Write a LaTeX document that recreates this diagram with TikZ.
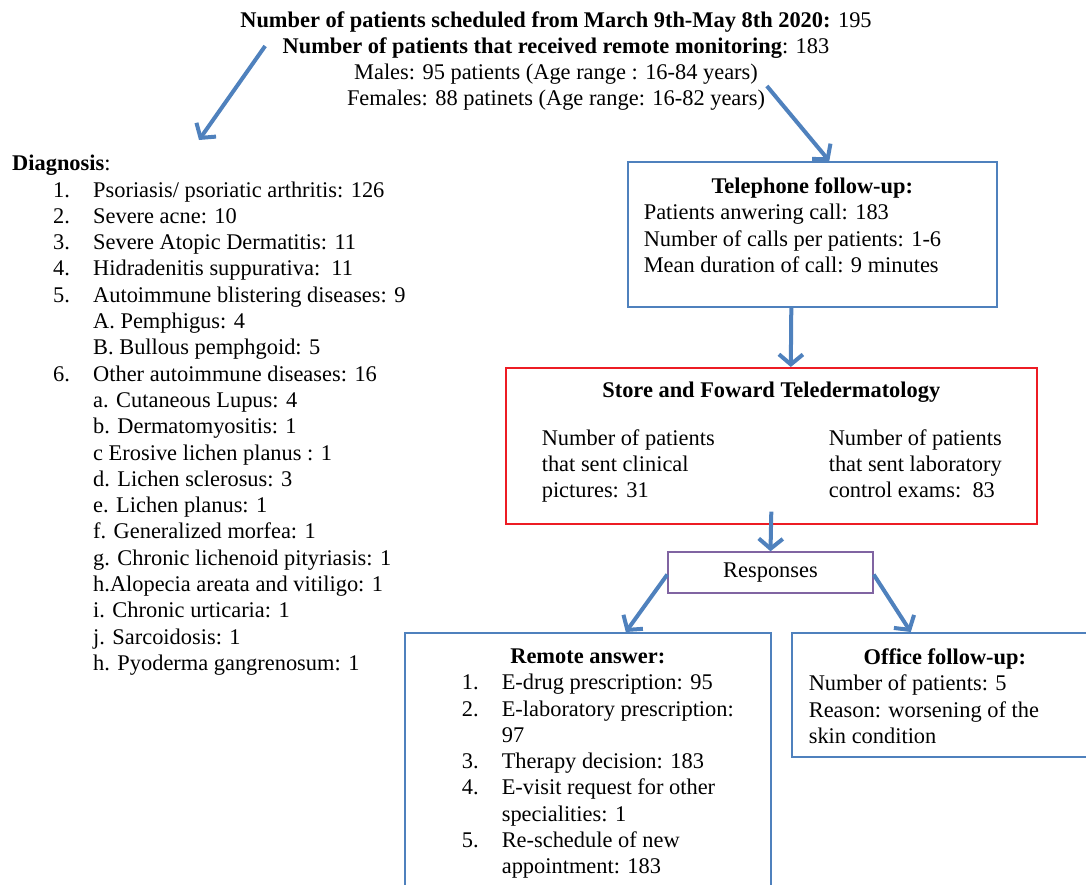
\documentclass[tikz,border=0pt]{standalone}
\usepackage{fontspec}
\setmainfont{Liberation Serif}
\usepackage{xcolor}
\usetikzlibrary{arrows.meta, positioning, calc}

\definecolor{flowblue}{RGB}{79,129,189}
\definecolor{flowred}{RGB}{237,28,36}
\definecolor{flowpurple}{RGB}{128,100,162}

\newcommand{\numline}[2]{\hspace*{41pt}\makebox[40pt][l]{#1}#2}
\newcommand{\subline}[1]{\hspace*{81pt}#1}
\newcommand{\ritem}[2]{\hspace*{57pt}\makebox[40pt][l]{#1}#2}

\begin{document}
\begin{tikzpicture}[
    x=1pt, y=-1pt,
    every node/.style={font=\fontsize{22.4}{26.3}\selectfont, inner sep=0pt},
    box/.style={rectangle, draw=flowblue, line width=1.6pt, anchor=north west},
    arrow/.style={draw=flowblue, line width=4pt, -{Straight Barb[length=10pt, width=24pt]}}
]
\useasboundingbox (0,0) rectangle (1086,884);
\clip (0,0) rectangle (1086,884);

% Title
\node[align=center] (title) at (556,61) {
    \textbf{Number of patients scheduled from March 9th-May 8th 2020:} 195\\
    \textbf{Number of patients that received remote monitoring}: 183\\
    Males: 95 patients (Age range : 16-84 years)\\
    Females: 88 patinets (Age range: 16-82 years)
};

% Diagnosis list
\node[align=left, anchor=north west] (diag) at (12,155) {
    \textbf{Diagnosis}:\\
    \numline{1.}{Psoriasis/ psoriatic arthritis: 126}\\
    \numline{2.}{Severe acne: 10}\\
    \numline{3.}{Severe Atopic Dermatitis: 11}\\
    \numline{4.}{Hidradenitis suppurativa:\ \ 11}\\
    \numline{5.}{Autoimmune blistering diseases: 9}\\
    \subline{A. Pemphigus: 4}\\
    \subline{B. Bullous pemphgoid: 5}\\
    \numline{6.}{Other autoimmune diseases: 16}\\
    \subline{a. Cutaneous Lupus: 4}\\
    \subline{b. Dermatomyositis: 1}\\
    \subline{c Erosive lichen planus : 1}\\
    \subline{d. Lichen sclerosus: 3}\\
    \subline{e. Lichen planus: 1}\\
    \subline{f. Generalized morfea: 1}\\
    \subline{g. Chronic lichenoid pityriasis: 1}\\
    \subline{h.Alopecia areata and vitiligo: 1}\\
    \subline{i. Chronic urticaria: 1}\\
    \subline{j. Sarcoidosis: 1}\\
    \subline{h. Pyoderma gangrenosum: 1}
};

% Telephone follow-up
\node[box] (tel) at (627,161) {\parbox[c][145pt][t]{369pt}{%
    \vspace*{16pt}\centering\textbf{Telephone follow-up:}\par
    \raggedright\leftskip=16pt
    Patients anwering call: 183\\
    Number of calls per patients: 1-6\\
    Mean duration of call: 9 minutes}};

% Store and forward
\node[box, draw=flowred] (store) at (505,367) {\parbox[c][156pt][t]{531pt}{%
    \vspace*{14pt}\centering\textbf{Store and Foward Teledermatology}\par
    \vspace{21.7pt}\raggedright
    \hspace*{36pt}\parbox[t]{287pt}{Number of patients\\that sent clinical\\pictures: 31}%
    \parbox[t]{200pt}{Number of patients\\that sent laboratory\\control exams:\ \ 83}}};

% Responses
\node[draw=flowpurple, line width=1.4pt, minimum width=205pt, minimum height=41pt] (resp) at (770.5,572.5) {Responses};

% Remote answer
\node[box] (remote) at (404,632) {\parbox[c][270pt][t]{366pt}{%
    \vspace*{16pt}\centering\textbf{Remote answer:}\par
    \raggedright
    \ritem{1.}{E-drug prescription: 95}\\
    \ritem{2.}{E-laboratory prescription:}\\
    \hspace*{97pt}97\\
    \ritem{3.}{Therapy decision: 183}\\
    \ritem{4.}{E-visit request for other}\\
    \hspace*{97pt}specialities: 1\\
    \ritem{5.}{Re-schedule of new}\\
    \hspace*{97pt}appointment: 183}};

% Office follow-up
\node[box] (office) at (791,632) {\parbox[c][124pt][t]{306pt}{%
    \vspace*{16pt}\centering\textbf{Office follow-up:}\par
    \raggedright\leftskip=17pt
    Number of patients: 5\\
    Reason: worsening of the\\
    skin condition}};

% Arrows
\draw[arrow] ($(title.west)+(25,-15)$) -- ($(diag.north west)+(187,-15)$);
\draw[arrow] ($(title.east)+(-105,25)$) -- ($(tel.north)+(17,0)$);
\draw[arrow] ($(tel.south)+(-21,0)$) -- ($(store.north)+(19.5,0)$);
\draw[arrow] ($(store.south)+(0,-13)$) -- (resp.north);
\draw[arrow] ($(resp.west)+(0,2)$) -- ($(remote.north)+(38,0)$);
\draw[arrow] ($(resp.east)+(0,2)$) -- ($(office.north)+(-34,0)$);

\end{tikzpicture}
\end{document}
